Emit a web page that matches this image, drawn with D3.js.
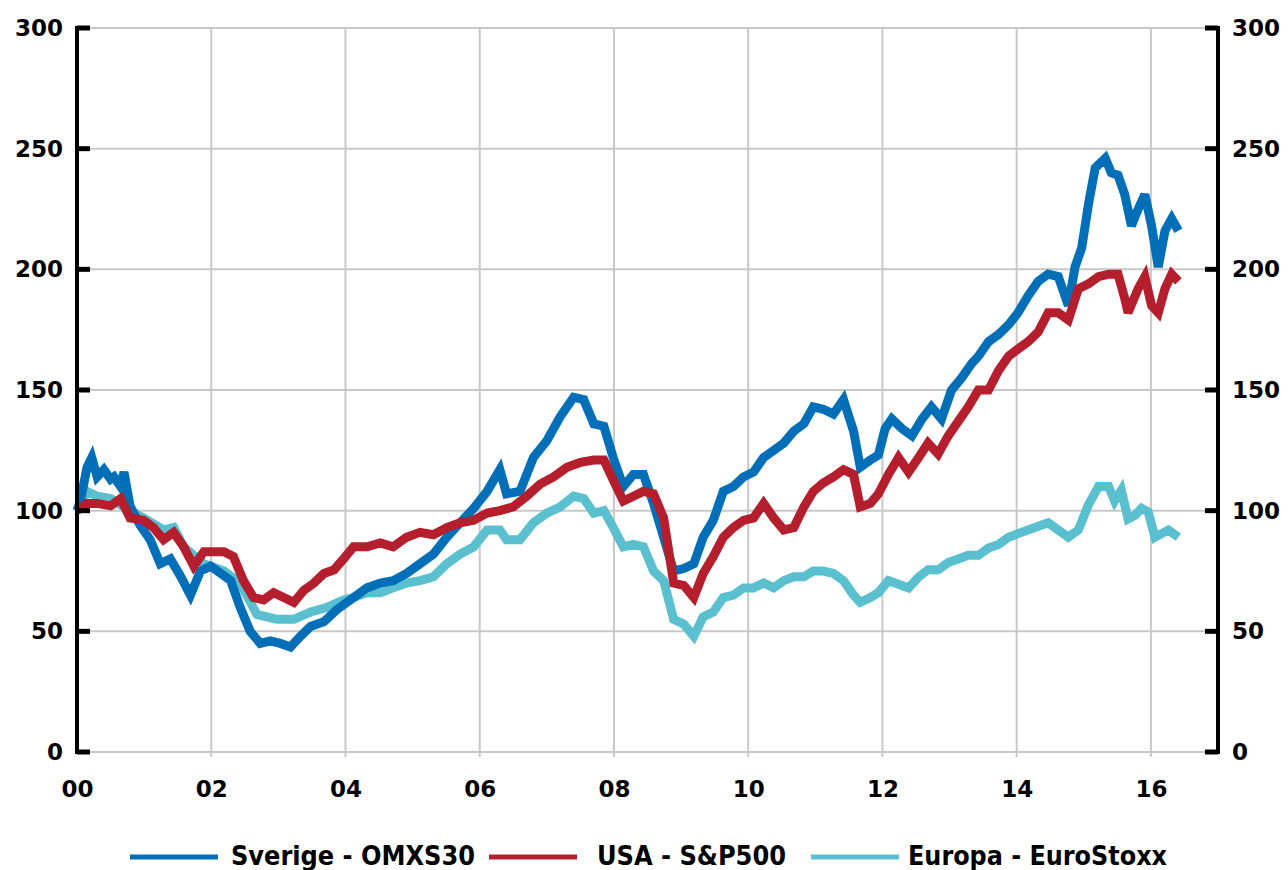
<!DOCTYPE html>
<html>
<head>
<meta charset="utf-8">
<script src="https://cdn.jsdelivr.net/npm/d3@7"></script>
<style>
  html, body { margin: 0; padding: 0; background: #fff; }
  svg { display: block; }
</style>
</head>
<body>
<svg id="chart" width="1288" height="870"></svg>
<script>
// ---- DATA ----
const seriesNames = ["Sverige - OMXS30", "USA - S&P500", "Europa - EuroStoxx"];
const xTickValues = [0, 2, 4, 6, 8, 10, 12, 14, 16];
const xTickLabels = ["00", "02", "04", "06", "08", "10", "12", "14", "16"];
const yTickValues = [0, 50, 100, 150, 200, 250, 300];

// [year since 2000, index value]
const omxs30 = [[0,100],[0.05,104],[0.15,118],[0.22,122],[0.3,114],[0.4,117],[0.5,113],[0.55,114],[0.65,110],[0.7,116],[0.79,102],[0.94,94],[1.09,88],[1.24,78],[1.39,80],[1.54,73],[1.69,65],[1.84,75],[1.99,77],[2.14,74],[2.29,71],[2.43,60],[2.58,50],[2.73,45],[2.88,46],[3.03,45],[3.18,43.5],[3.33,48],[3.48,52],[3.68,54],[3.87,59],[4.12,64],[4.32,68],[4.52,70],[4.71,71],[4.91,74],[5.11,78],[5.31,82],[5.51,89],[5.71,95],[5.91,101],[6.11,108],[6.3,117],[6.4,107],[6.6,108],[6.8,122],[7.0,129],[7.2,139],[7.4,147],[7.55,146],[7.7,136],[7.85,135],[8.0,121],[8.14,110],[8.29,115],[8.44,115],[8.59,103],[8.74,89],[8.89,75],[9.04,76],[9.19,78],[9.33,89],[9.48,96],[9.63,108],[9.78,110],[9.93,114],[10.08,116],[10.23,122],[10.38,125],[10.53,128],[10.68,133],[10.83,136],[10.97,143],[11.12,142],[11.27,140],[11.42,146],[11.57,133],[11.67,118],[11.82,121],[11.94,123],[12.04,134],[12.14,138],[12.29,134],[12.44,131],[12.59,138],[12.73,143],[12.88,138],[13.03,150],[13.18,155],[13.33,161],[13.43,164],[13.58,170],[13.73,173],[13.88,177],[14.02,182],[14.17,189],[14.32,195],[14.47,198],[14.62,197],[14.77,185],[14.87,201],[14.97,209],[15.07,227],[15.17,242],[15.32,246],[15.41,240],[15.51,239],[15.61,231],[15.71,218],[15.81,225],[15.91,231],[16.01,218],[16.11,201],[16.21,216],[16.31,221],[16.41,216]];

const sp500 = [[0,100],[0.15,103],[0.3,103],[0.5,102],[0.65,105],[0.79,97],[0.99,96],[1.14,93],[1.29,88],[1.44,91],[1.59,85],[1.74,77],[1.89,83],[2.04,83],[2.19,83],[2.33,81],[2.48,71],[2.63,64],[2.78,63],[2.93,66],[3.08,64],[3.23,62],[3.38,67],[3.53,70],[3.68,74],[3.83,75.5],[3.97,80],[4.12,85],[4.32,85],[4.52,86.6],[4.71,85],[4.91,89],[5.11,91],[5.31,90],[5.51,93],[5.71,95],[5.91,96],[6.11,99],[6.3,100],[6.5,101.6],[6.7,106],[6.9,111],[7.1,114],[7.3,118],[7.5,120],[7.7,121],[7.85,121],[8.0,112],[8.14,104],[8.29,106],[8.44,108],[8.59,107],[8.74,97],[8.89,70],[9.04,69],[9.19,64],[9.33,74],[9.48,81],[9.63,89],[9.78,93],[9.93,96],[10.08,97],[10.23,103],[10.38,97],[10.53,92],[10.68,93],[10.83,101.6],[10.97,108],[11.12,111.5],[11.27,114],[11.42,117],[11.57,115],[11.67,101.6],[11.82,103],[11.94,107],[12.09,115],[12.24,122],[12.39,116],[12.54,122],[12.68,128],[12.83,123.5],[12.98,131],[13.13,137],[13.28,143],[13.43,150],[13.58,150],[13.73,158],[13.88,164],[14.02,167],[14.17,170],[14.32,174],[14.47,182],[14.62,182],[14.77,179],[14.92,192],[15.07,194],[15.22,197],[15.37,198],[15.51,198],[15.61,188],[15.66,182],[15.81,192],[15.91,197],[16.01,185],[16.11,182],[16.21,192],[16.31,198],[16.41,195]];

const eurostoxx = [[0,100],[0.15,108],[0.3,106],[0.5,105],[0.79,100],[0.99,97],[1.29,92],[1.44,93],[1.59,85],[1.89,78],[2.19,75],[2.43,70],[2.68,57],[2.98,55],[3.23,55],[3.48,58],[3.73,60],[3.97,63],[4.12,64],[4.32,66],[4.52,66],[4.71,68],[4.91,70],[5.11,71],[5.31,72.6],[5.51,78],[5.71,82],[5.91,85],[6.11,92],[6.3,92],[6.4,88],[6.6,88],[6.8,95],[7.0,99],[7.2,101.6],[7.4,106],[7.55,105],[7.7,99],[7.85,100],[7.99,93],[8.14,85],[8.29,86],[8.44,85],[8.59,75],[8.74,71],[8.89,55],[9.04,53],[9.19,48],[9.33,56],[9.48,58],[9.63,64],[9.78,65],[9.93,68],[10.08,68],[10.23,70],[10.38,68],[10.53,71],[10.68,72.6],[10.83,72.6],[10.97,75],[11.12,75],[11.27,74],[11.42,71],[11.57,65],[11.67,62],[11.82,64],[11.94,66],[12.09,71],[12.24,69.5],[12.39,68],[12.54,72.5],[12.68,75.5],[12.83,75.5],[12.98,78.5],[13.13,80],[13.28,81.5],[13.43,81.5],[13.58,84.5],[13.73,86],[13.88,89],[14.02,90.5],[14.17,92],[14.32,93.5],[14.47,95],[14.62,92],[14.77,89],[14.92,92],[15.07,102.5],[15.22,110],[15.37,110],[15.46,104],[15.56,108.5],[15.66,96.5],[15.76,98],[15.86,101],[15.96,99.5],[16.06,89],[16.16,90.5],[16.26,92],[16.41,89]];

// ---- LAYOUT / STYLE ----
const colors = ["#006fb7", "#b51f2d", "#5ac0cf"];
const seriesData = [omxs30, sp500, eurostoxx];
const drawOrder = [2, 0, 1];

const plotLeft = 77, plotRight = 1218, plotTop = 28, plotBottom = 752;
const svg = d3.select("#chart");

const x = d3.scaleLinear().domain([0, 17]).range([plotLeft, plotRight]);
const y = d3.scaleLinear().domain([0, 300]).range([plotBottom, plotTop]);

const axisFont = "'DejaVu Sans', Verdana, sans-serif";

// horizontal gridlines
svg.append("g").selectAll("line").data(yTickValues).join("line")
  .attr("x1", plotLeft).attr("x2", plotRight)
  .attr("y1", d => y(d)).attr("y2", d => y(d))
  .attr("stroke", "#c8c8c8").attr("stroke-width", 2);

// vertical gridlines
svg.append("g").selectAll("line").data(xTickValues.filter(d => d > 0)).join("line")
  .attr("x1", d => x(d)).attr("x2", d => x(d))
  .attr("y1", plotTop).attr("y2", plotBottom + 5)
  .attr("stroke", "#c8c8c8").attr("stroke-width", 2);

// lines
const line = d3.line().x(d => x(d[0])).y(d => y(d[1])).curve(d3.curveLinear);
const gLines = svg.append("g");
drawOrder.forEach(i => {
  gLines.append("path")
    .datum(seriesData[i])
    .attr("d", line)
    .attr("fill", "none")
    .attr("stroke", colors[i])
    .attr("stroke-width", 9)
    .attr("stroke-linejoin", "miter")
    .attr("stroke-miterlimit", 3);
});

// left axis
const leftAxis = d3.axisLeft(y).tickValues(yTickValues).tickSize(0).tickPadding(14);
const gl = svg.append("g").attr("transform", `translate(${plotLeft},0)`).call(leftAxis);
gl.select(".domain").remove();
gl.selectAll("text").attr("font-family", axisFont).attr("font-weight", "bold")
  .attr("font-size", 23).attr("fill", "#000");
svg.append("line").attr("x1", plotLeft).attr("x2", plotLeft).attr("y1", plotTop - 2).attr("y2", plotBottom + 2)
  .attr("stroke", "#000").attr("stroke-width", 4);
svg.append("g").selectAll("line").data(yTickValues).join("line")
  .attr("x1", plotLeft).attr("x2", plotLeft + 13).attr("y1", d => y(d)).attr("y2", d => y(d))
  .attr("stroke", "#000").attr("stroke-width", 5);

// right axis
const rightAxis = d3.axisRight(y).tickValues(yTickValues).tickSize(0).tickPadding(14);
const gr = svg.append("g").attr("transform", `translate(${plotRight},0)`).call(rightAxis);
gr.select(".domain").remove();
gr.selectAll("text").attr("font-family", axisFont).attr("font-weight", "bold")
  .attr("font-size", 23).attr("fill", "#000");
svg.append("line").attr("x1", plotRight).attr("x2", plotRight).attr("y1", plotTop - 2).attr("y2", plotBottom + 2)
  .attr("stroke", "#000").attr("stroke-width", 4);
svg.append("g").selectAll("line").data(yTickValues).join("line")
  .attr("x1", plotRight - 13).attr("x2", plotRight).attr("y1", d => y(d)).attr("y2", d => y(d))
  .attr("stroke", "#000").attr("stroke-width", 5);

// bottom axis labels
const bottomAxis = d3.axisBottom(x).tickValues(xTickValues)
  .tickFormat((d, i) => xTickLabels[i]).tickSize(0).tickPadding(29);
const gb = svg.append("g").attr("transform", `translate(0,${plotBottom})`).call(bottomAxis);
gb.select(".domain").remove();
gb.selectAll("text").attr("font-family", axisFont).attr("font-weight", "bold")
  .attr("font-size", 23).attr("fill", "#000");

// legend
const legendY = 857;
const legendItems = [
  { lx: 130, tx: 231, tw: 244 },
  { lx: 489, tx: 597, tw: 189 },
  { lx: 811, tx: 908, tw: 259 }
];
const legend = svg.append("g");
seriesNames.forEach((name, i) => {
  const it = legendItems[i];
  legend.append("line")
    .attr("x1", it.lx).attr("x2", it.lx + 88)
    .attr("y1", legendY).attr("y2", legendY)
    .attr("stroke", colors[i]).attr("stroke-width", 5);
  legend.append("text")
    .attr("x", it.tx).attr("y", legendY + 8)
    .attr("font-family", "'Liberation Sans Narrow', 'DejaVu Sans Condensed', 'Arial Narrow', sans-serif")
    .attr("font-stretch", "condensed")
    .attr("font-weight", "bold").attr("font-size", 27)
    .attr("textLength", it.tw).attr("lengthAdjust", "spacingAndGlyphs")
    .attr("fill", "#000")
    .text(name);
});
</script>
</body>
</html>
